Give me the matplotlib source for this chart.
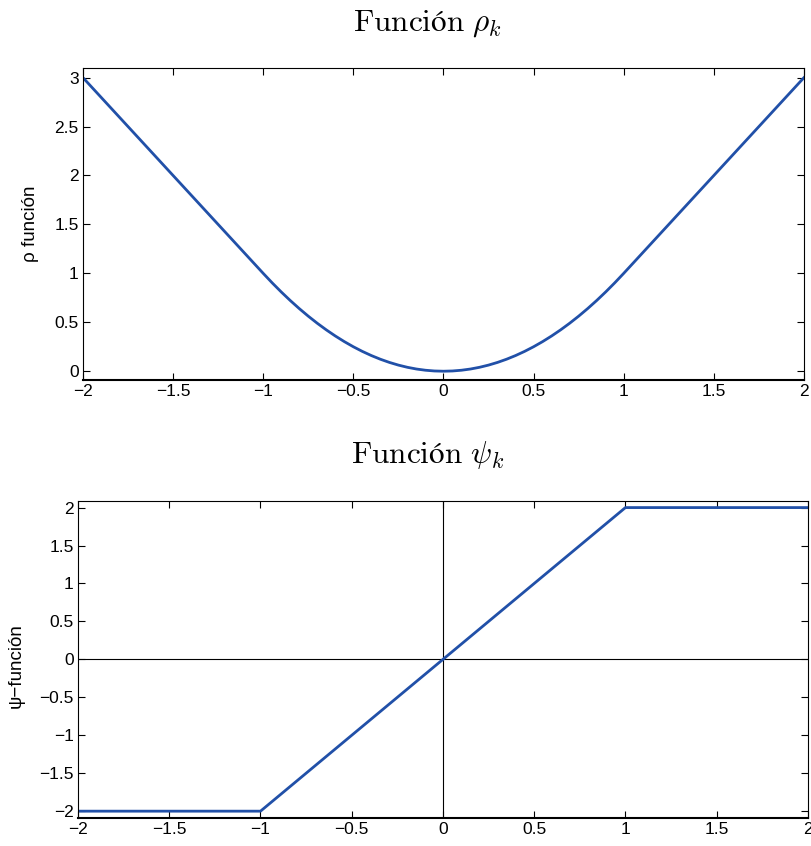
import numpy as np
import matplotlib
matplotlib.use("Agg")
import matplotlib.pyplot as plt

plt.rcParams['font.family'] = ['Liberation Sans', 'DejaVu Sans']
plt.rcParams['mathtext.fontset'] = 'cm'

# rho function, right half, mirrored for the left half
x_half = [0.0, 0.05, 0.1, 0.15, 0.2, 0.25, 0.3, 0.35, 0.4, 0.45, 0.5, 0.55, 0.6, 0.65,
          0.7, 0.75, 0.8, 0.85, 0.9, 0.95, 1.0, 1.1, 1.2, 1.3, 1.4, 1.5, 1.6, 1.7, 1.8, 1.9, 2.0]
rho_half = [0.0, 0.0025, 0.01, 0.0225, 0.04, 0.0625, 0.09, 0.1225, 0.16, 0.2025, 0.25, 0.3025,
            0.36, 0.4225, 0.49, 0.5625, 0.64, 0.7225, 0.81, 0.9025, 1.0, 1.2, 1.4, 1.6, 1.8,
            2.0, 2.2, 2.4, 2.6, 2.8, 3.0]

# psi function corners
x_psi = [-2, -1, 1, 2]
psi = [-2, -2, 2, 2]

xticks = [-2, -1.5, -1, -0.5, 0, 0.5, 1, 1.5, 2]
xticklabels = ['\u22122', '\u22121.5', '\u22121', '\u22120.5', '0', '0.5', '1', '1.5', '2']

x_rho = np.concatenate([-np.array(x_half[:0:-1]), x_half])
rho = np.concatenate([np.array(rho_half[:0:-1]), rho_half])

blue = '#2150a8'

fig = plt.figure(figsize=(8.11, 8.46), dpi=100)

ax1 = fig.add_axes([0.1023, 0.5508, 0.889, 0.369])
ax1.plot(x_rho, rho, color=blue, lw=2)
ax1.set_xlim(-2, 2)
ax1.set_ylim(-0.09, 3.1)
ax1.set_yticks([0, 0.5, 1, 1.5, 2, 2.5, 3])
ax1.set_yticklabels(['0', '0.5', '1', '1.5', '2', '2.5', '3'])
ax1.set_ylabel('\u03c1 funci\u00f3n', fontsize=13.5)
ax1.yaxis.set_label_coords(-0.061, 0.5)
ax1.set_title(r'$\mathrm{Función}\ \rho_k$', fontsize=22.5, pad=27, x=0.4785)

ax2 = fig.add_axes([0.0962, 0.0331, 0.900, 0.375])
ax2.axhline(0, color='black', lw=0.8)
ax2.axvline(0, color='black', lw=0.8)
ax2.plot(x_psi, psi, color=blue, lw=2)
ax2.set_xlim(-2, 2)
ax2.set_ylim(-2.09, 2.09)
ax2.set_yticks([-2, -1.5, -1, -0.5, 0, 0.5, 1, 1.5, 2])
ax2.set_yticklabels(['\u22122', '\u22121.5', '\u22121', '\u22120.5', '0', '0.5', '1', '1.5', '2'])
ax2.set_ylabel('\u03c8\u2212funci\u00f3n', fontsize=13.5)
ax2.yaxis.set_label_coords(-0.0726, 0.48)
ax2.set_title(r'$\mathrm{Función}\ \psi_k$', fontsize=22.5, pad=27, x=0.479)

for ax in (ax1, ax2):
    ax.set_xticks(xticks)
    ax.set_xticklabels(xticklabels)
    ax.tick_params(direction='in', top=True, right=True, labelsize=12.5, length=5, width=0.8, pad=3)
    for s in ax.spines.values():
        s.set_linewidth(0.8)
    ax.spines['bottom'].set_linewidth(1.5)

fig.savefig('out.png', dpi=100)
